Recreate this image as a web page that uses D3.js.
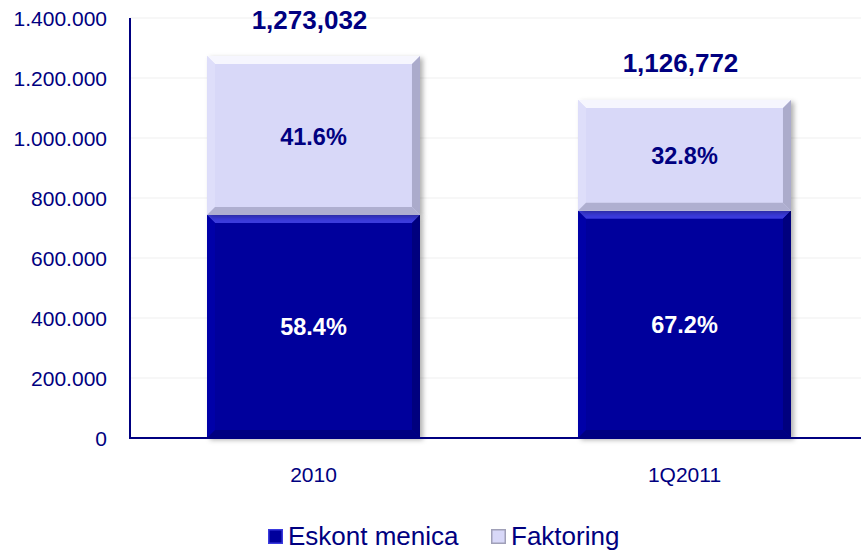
<!DOCTYPE html>
<html><head><meta charset="utf-8">
<script src="https://cdn.jsdelivr.net/npm/d3@7"></script>
<style>body{margin:0;background:#fff}svg{display:block;font-family:Arial,"Liberation Sans",sans-serif}</style>
</head><body><svg id="c" width="861" height="550"></svg>
<script>
const categories = ["2010", "1Q2011"];
const totals = [1273032, 1126772];
const eskontShare = [58.4, 67.2];
const faktoringShare = [41.6, 32.8];
const seriesNames = ["Eskont menica", "Faktoring"];
const yTicks = [0, 200000, 400000, 600000, 800000, 1000000, 1200000, 1400000];

const eskont = totals.map((t, i) => t * eskontShare[i] / 100);

const svg = d3.select("#c");
const navy = "#000080";
const x = d3.scaleBand().domain(categories).range([128, 870]).paddingInner(0.426).paddingOuter(0.213);
const y = d3.scaleLinear().domain([0, 1400000]).range([438, 18]);

const defs = svg.append("defs");
const f = defs.append("filter").attr("id", "sh").attr("x", "-10%").attr("y", "-10%").attr("width", "130%").attr("height", "130%");
f.append("feDropShadow").attr("dx", 3).attr("dy", 2).attr("stdDeviation", 2.5).attr("flood-color", "#000").attr("flood-opacity", 0.3);

// gridlines
svg.append("g").selectAll("line").data(yTicks.slice(1)).join("line")
  .attr("x1", 130).attr("x2", 861).attr("y1", d => y(d)).attr("y2", d => y(d))
  .attr("stroke", "#efefef").attr("stroke-width", 1);

// y axis
const ya = svg.append("g").attr("transform", "translate(130,0)")
  .call(d3.axisLeft(y).tickValues(yTicks).tickSize(0).tickPadding(23)
    .tickFormat(d => d3.format(",")(d).replace(/,/g, ".")));
ya.select(".domain").remove();
ya.selectAll("text").attr("fill", navy).style("font-size", "21px").attr("font-family", "Arial, 'Liberation Sans', sans-serif").attr("dy", "0.36em");

const bw = x.bandwidth();
function bevelBar(g, x0, y0, w, h, base, light, dark, top) {
  const b = 8;
  const gg = g.append("g").attr("filter", "url(#sh)");
  gg.append("rect").attr("x", x0).attr("y", y0).attr("width", w).attr("height", h).attr("fill", base);
  gg.append("polygon").attr("points", [[x0, y0], [x0 + w, y0], [x0 + w - b, y0 + b], [x0 + b, y0 + b]].join(" ")).attr("fill", top);
  gg.append("polygon").attr("points", [[x0, y0], [x0 + b, y0 + b], [x0 + b, y0 + h - b], [x0, y0 + h]].join(" ")).attr("fill", light);
  gg.append("polygon").attr("points", [[x0 + w, y0], [x0 + w - b, y0 + b], [x0 + w - b, y0 + h - b], [x0 + w, y0 + h]].join(" ")).attr("fill", dark);
  gg.append("polygon").attr("points", [[x0, y0 + h], [x0 + b, y0 + h - b], [x0 + w - b, y0 + h - b], [x0 + w, y0 + h]].join(" ")).attr("fill", dark).attr("opacity", 0.9);
}

const bars = svg.append("g");
categories.forEach((c, i) => {
  const x0 = x(c);
  bevelBar(bars, x0, y(eskont[i]), bw, y(0) - y(eskont[i]), "#00009c", "#0606a8", "#00007e", "#3a3ade");
  bevelBar(bars, x0, y(totals[i]), bw, y(eskont[i]) - y(totals[i]), "#d8d8f8", "#dedefa", "#ababcb", "#f6f6fe");
});

// axis lines
svg.append("line").attr("x1", 130).attr("x2", 861).attr("y1", 438).attr("y2", 438).attr("stroke", navy).attr("stroke-width", 2);
svg.append("line").attr("x1", 130).attr("x2", 130).attr("y1", 18).attr("y2", 439).attr("stroke", navy).attr("stroke-width", 2);

// category labels
svg.append("g").selectAll("text").data(categories).join("text")
  .attr("x", d => x(d) + bw / 2).attr("y", 482).attr("text-anchor", "middle")
  .attr("fill", navy).style("font-size", "21px").text(d => d);

// labels
const lab = svg.append("g").style("font-weight", "bold").style("font-size", "23.5px").attr("text-anchor", "middle");
categories.forEach((c, i) => {
  const cx = x(c) + bw / 2;
  lab.append("text").attr("x", cx).attr("y", (y(0) + y(eskont[i])) / 2 + 9).attr("fill", "#fff").text(eskontShare[i].toFixed(1) + "%");
  lab.append("text").attr("x", cx).attr("y", (y(eskont[i]) + y(totals[i])) / 2 + 9).attr("fill", navy).text(faktoringShare[i].toFixed(1) + "%");
  lab.append("text").attr("x", cx - 4).attr("y", y(totals[i]) - 27.5).attr("fill", navy).style("font-size", "26px").text(d3.format(",")(totals[i]));
});

// legend
const leg = svg.append("g");
const legX = [268, 491];
const legFill = ["#00009c", "#d8d8f8"];
const legEdge = ["#3a3ade", "#a0a0b8"];
seriesNames.forEach((n, i) => {
  leg.append("rect").attr("x", legX[i] + 0.75).attr("y", 529.75).attr("width", 13.5).attr("height", 13.5).attr("fill", legFill[i]).attr("stroke", legEdge[i]).attr("stroke-width", 1.5);
  leg.append("text").attr("x", legX[i] + 20).attr("y", 544.5).attr("fill", navy).style("font-size", "26px").text(n);
});
</script></body></html>
